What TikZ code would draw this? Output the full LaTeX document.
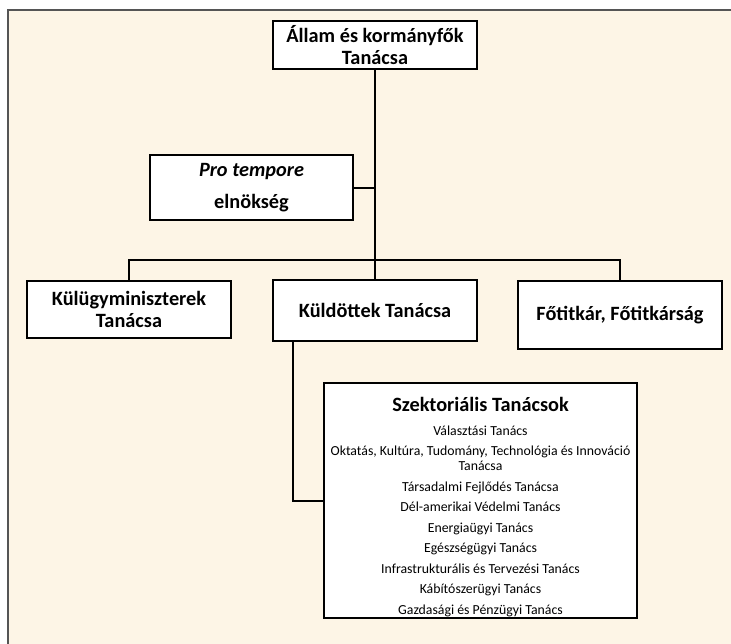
\documentclass[tikz,border=0pt]{standalone}
\usepackage{fontspec}
\setmainfont{Carlito}
\definecolor{panelbg}{RGB}{253,245,230}
\definecolor{panelline}{RGB}{85,85,85}

\begin{document}
\begin{tikzpicture}[x=1pt,y=-1pt,
	box/.style={draw=black, line width=2pt, fill=white, align=center,
		font=\fontsize{20.3}{22}\selectfont\bfseries, minimum width=204pt, inner sep=2pt},
	link/.style={line width=2pt}]
	\useasboundingbox (0,0) rectangle (731,644);
	\fill[panelbg] (8,10) rectangle (740,650);
	\draw[panelline, line width=1.2pt] (8,650) -- (8,10) -- (740,10);

	\coordinate (bar) at (375,260);

	\node[box, minimum height=48pt] (allam) at (375,45) {Állam és kormányfők\\Tanácsa};
	\node[box, minimum width=203pt, minimum height=65pt] (pro) at (251.5,188) {\textit{Pro tempore}\\[10pt]elnökség};
	\node[box, minimum height=57pt] (kulugy) at (129,309.5) {Külügyminiszterek\\Tanácsa};
	\node[box, minimum height=61pt] (kuldott) at (375,310.5) {Küldöttek Tanácsa};
	\node[box, minimum height=68pt] (fotitkar) at (620,315) {Főtitkár, Főtitkárság};
	\node[box, minimum width=313pt, minimum height=235pt] (szekt) at (480.5,500.5) {};
	\node[align=center, inner sep=0pt, font=\fontsize{13.8}{15}\selectfont] (szektlist) at (480.5,507) {%
		{\fontsize{20.3}{22}\selectfont\bfseries Szektoriális Tanácsok}\\[9pt]
		Választási Tanács\\[5.5pt]
		Oktatás, Kultúra, Tudomány, Technológia és Innováció\\Tanácsa\\[5.5pt]
		Társadalmi Fejlődés Tanácsa\\[5.5pt]
		Dél-amerikai Védelmi Tanács\\[5.5pt]
		Energiaügyi Tanács\\[5.5pt]
		Egészségügyi Tanács\\[5.5pt]
		Infrastrukturális és Tervezési Tanács\\[5.5pt]
		Kábítószerügyi Tanács\\[5.5pt]
		Gazdasági és Pénzügyi Tanács};

	\draw[link] (allam) -- (kuldott);
	\draw[link] (pro.east) -- (pro.east -| allam.south);
	\draw[link] (kulugy.north) |- (bar) -| (fotitkar.north);
	\draw[link] ([xshift=21pt]kuldott.south west) |- (szekt.west);
\end{tikzpicture}
\end{document}
